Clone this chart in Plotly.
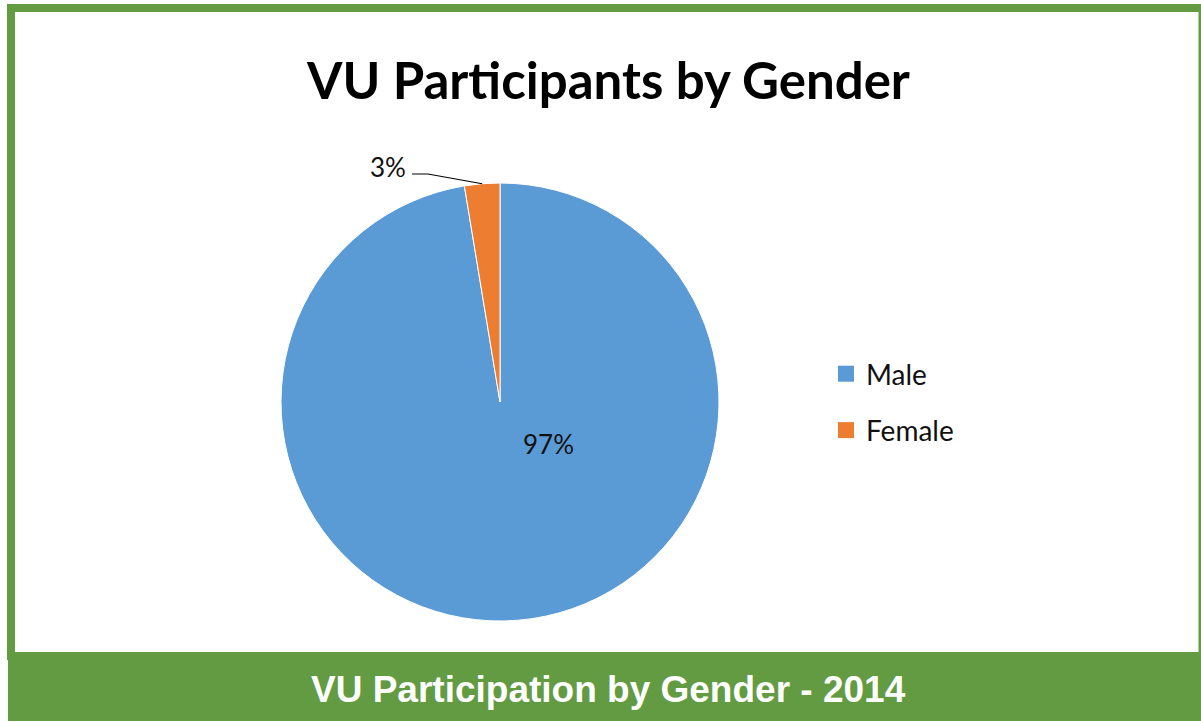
import math
import plotly.graph_objects as go

# ---- data ----
labels = ["Male", "Female"]
values = [97.4, 2.6]
colors = ["#5B9BD5", "#ED7D31"]
title_text = "VU Participants by Gender"
footer_text = "VU Participation by Gender - 2014"

W, H = 1201, 721
GREEN = "#629B42"

def px(x):
    return x / W

def py(y):
    return 1 - y / H

# pie geometry (pixels)
cx, cy, r = 500, 402, 219

fig = go.Figure()
fig.add_trace(go.Pie(
    labels=labels, values=values, sort=False, direction="clockwise", rotation=0,
    marker=dict(colors=colors, line=dict(color="white", width=1)),
    textinfo="none", hoverinfo="label+percent", showlegend=False,
    domain=dict(x=[px(cx - r), px(cx + r)], y=[py(cy + r), py(cy - r)]),
))

# legend entries (one group per label for spacing control)
for lab, col in zip(labels, colors):
    fig.add_trace(go.Scatter(
        x=[None], y=[None], mode="markers", name=lab, legendgroup=lab,
        marker=dict(symbol="square", size=16, color=col), showlegend=True,
    ))

total = sum(values)
pcts = [v / total for v in values]

# percentage labels
fig.add_annotation(x=px(548), y=py(444), xref="paper", yref="paper",
                   xanchor="center", yanchor="middle",
                   text=f"{round(pcts[0]*100)}%", showarrow=False,
                   font=dict(family="Lato", size=26, color="#111"))
fig.add_annotation(x=px(388), y=py(167), xref="paper", yref="paper",
                   xanchor="center", yanchor="middle",
                   text=f"{round(pcts[1]*100)}%", showarrow=False,
                   font=dict(family="Lato", size=26, color="#111"))

# leader line to middle of female slice
mid = (1 - pcts[1] / 2) * 2 * math.pi  # clockwise angle from top
ex = cx + r * math.sin(mid)
ey = cy - r * math.cos(mid)
fig.add_shape(type="path", xref="paper", yref="paper",
              path=f"M {px(412)},{py(174)} L {px(428)},{py(174)} L {px(ex)},{py(ey)}",
              line=dict(color="black", width=1.2))

# green frame
fig.add_shape(type="rect", xref="paper", yref="paper", x0=px(7), x1=1, y0=py(12), y1=py(4),
              fillcolor=GREEN, line_width=0, layer="below")
fig.add_shape(type="rect", xref="paper", yref="paper", x0=px(7), x1=px(15), y0=py(660), y1=py(4),
              fillcolor=GREEN, line_width=0, layer="below")
fig.add_shape(type="rect", xref="paper", yref="paper", x0=px(1198.5), x1=1, y0=py(652), y1=py(4),
              fillcolor=GREEN, line_width=0, layer="below")
fig.add_shape(type="rect", xref="paper", yref="paper", x0=px(8), x1=1, y0=0, y1=py(652),
              fillcolor=GREEN, line_width=0, layer="below")

# title
fig.add_annotation(x=px(608), y=py(80), xref="paper", yref="paper", text=f"<b>{title_text}</b>",
                   xanchor="center", yanchor="middle",
                   showarrow=False, font=dict(family="Lato", size=51, color="black"))
# footer
fig.add_annotation(x=px(608), y=py(689), xref="paper", yref="paper", text=f"<b>{footer_text}</b>",
                   xanchor="center", yanchor="middle",
                   showarrow=False, font=dict(family="Liberation Sans", size=37, color="white"))

fig.update_layout(
    width=W, height=H, margin=dict(l=0, r=0, t=0, b=0),
    paper_bgcolor="white", plot_bgcolor="white",
    xaxis=dict(visible=False), yaxis=dict(visible=False),
    legend=dict(x=px(826), y=py(402), xanchor="left", yanchor="middle",
                font=dict(family="Lato", size=28, color="#111"),
                tracegroupgap=17, bgcolor="rgba(0,0,0,0)"),
)

fig.write_html("out.html", config={"displayModeBar": False},
               post_script="document.body.style.margin='0';document.body.style.overflow='hidden';")
